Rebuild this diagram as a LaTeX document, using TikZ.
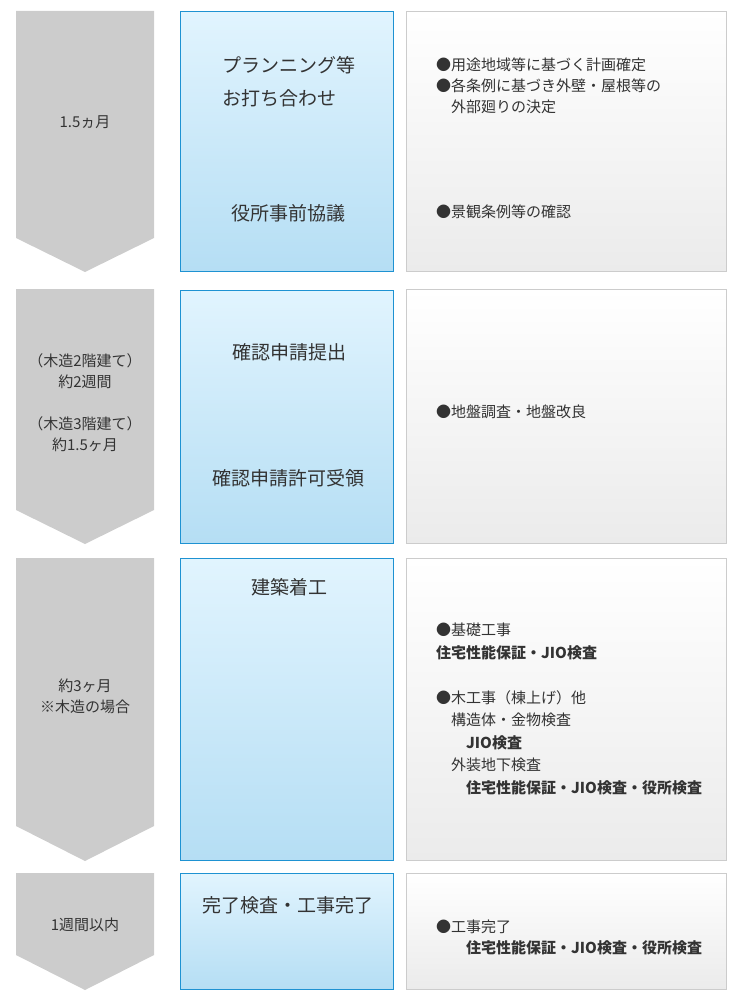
\documentclass[tikz,border=0pt]{standalone}
\usepackage{fontspec}
\setmainfont{Noto Sans CJK JP}
\definecolor{periodgray}{HTML}{CCCCCC}
\definecolor{boxblue}{HTML}{1E92D2}
\definecolor{bluetop}{HTML}{E1F4FE}
\definecolor{bluebot}{HTML}{B5DEF4}
\definecolor{notebot}{HTML}{EBEBEB}
\definecolor{noteline}{HTML}{CCCCCC}
\definecolor{ink}{HTML}{333333}
\begin{document}
\begin{tikzpicture}[x=1pt,y=-1pt,
  period/.style={fill=periodgray},
  stagebox/.style={draw=boxblue,line width=1pt,top color=bluetop,bottom color=bluebot},
  notebox/.style={draw=noteline,line width=1pt,top color=white,bottom color=notebot},
  every node/.style={text=ink,inner sep=0pt},
  span/.style={align=center,font=\fontsize{15}{21}\selectfont},
  stage/.style={align=center,font=\fontsize{19}{33}\selectfont},
  note/.style={anchor=west,align=left,font=\fontsize{15}{21}\selectfont}
]
    \useasboundingbox (0,0) rectangle (740,1000);
    % periods
    \fill[period] (16,11) -- (154,11) -- (154,238) -- (85,272) -- (16,238) -- cycle;
    \fill[period] (16,289) -- (154,289) -- (154,510) -- (85,544) -- (16,510) -- cycle;
    \fill[period] (16,558) -- (154,558) -- (154,826) -- (85,861) -- (16,826) -- cycle;
    \fill[period] (16,873) -- (154,873) -- (154,955) -- (85,990) -- (16,955) -- cycle;
    % stages
    \draw[stagebox] (180.5,11.5) rectangle (393.5,271);
    \draw[stagebox] (180.5,290) rectangle (393.5,543);
    \draw[stagebox] (180.5,558.5) rectangle (393.5,860);
    \draw[stagebox] (180.5,873.5) rectangle (393.5,989);
    % notes
    \draw[notebox] (406.5,11.5) rectangle (726.5,271);
    \draw[notebox] (406.5,289.5) rectangle (726.5,543);
    \draw[notebox] (406.5,558.5) rectangle (726.5,860);
    \draw[notebox] (406.5,873.5) rectangle (726.5,989);

    \node[span] (p1) at (85,122) {1.5ヵ月};
    \node[span] (p2) at (85,403) {（木造2階建て）\\約2週間\\[21pt]（木造3階建て）\\約1.5ヶ月};
    \node[span] (p3) at (85,696) {約3ヶ月\\※木造の場合};
    \node[span] (p4) at (85,925) {1週間以内};

    \node[stage,anchor=west,align=left] (plan) at (222,81.5) {プランニング等\\お打ち合わせ};
    \node[stage] (consult) at (288,213) {役所事前協議};
    \node[stage] (submit) at (289,352) {確認申請提出};
    \node[stage] (permit) at (288,478) {確認申請許可受領};
    \node[stage] (start) at (289,587) {建築着工};
    \node[stage] (finish) at (288,905) {完了検査・工事完了};

    \node[note] (n1) at (436,86) {●用途地域等に基づく計画確定\\●各条例に基づき外壁・屋根等の\\\hspace{1em}外部廻りの決定};
    \node[note] (n2) at (436,212) {●景観条例等の確認};
    \node[note] (n3) at (436,412) {●地盤調査・地盤改良};
    \node[note,font=\fontsize{15}{22.5}\selectfont] (n4) at (436,709) {●基礎工事\\\textbf{住宅性能保証・JIO検査}\\[22.5pt]●木工事（棟上げ）他\\\hspace{1em}構造体・金物検査\\\hspace{2em}\textbf{JIO検査}\\\hspace{1em}外装地下検査\\\hspace{2em}\textbf{住宅性能保証・JIO検査・役所検査}};
    \node[note] (n5) at (436,937.5) {●工事完了\\\hspace{2em}\textbf{住宅性能保証・JIO検査・役所検査}};
\end{tikzpicture}
\end{document}
